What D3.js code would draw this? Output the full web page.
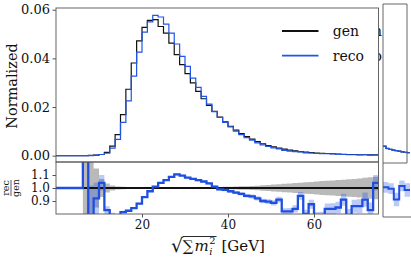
<!DOCTYPE html>
<html>
<head>
<meta charset="utf-8">
<script src="https://cdn.jsdelivr.net/npm/d3@7"></script>
<style>
  body { margin: 0; background: #fff; }
  svg { display: block; }
  text { font-family: "DejaVu Serif", serif; fill: #111; }
</style>
</head>
<body>
<div id="chart"></div>
<script>
// histogram: 60 bins of 1.25 GeV from 0 to 75
const binWidth = 1.25;
const nBins = 60;

// normalized gen / reco densities per bin
const gen = [
  0, 0, 0, 0, 0, 0.00003, 0.0001, 0.0002, 0.0005, 0.0014,
  0.0039, 0.0087, 0.0169, 0.0273, 0.0381, 0.0472, 0.0527, 0.0556, 0.0559, 0.0531,
  0.0504, 0.0463, 0.0415, 0.0374, 0.0337, 0.0299, 0.0264, 0.0234, 0.0207, 0.0182,
  0.0159, 0.0139, 0.0121, 0.0105, 0.0091, 0.0079, 0.0068, 0.0058, 0.0049, 0.0042,
  0.0036, 0.0031, 0.0027, 0.0023, 0.0020, 0.0017, 0.0015, 0.0013, 0.0011, 0.0010,
  0.0009, 0.0008, 0.0007, 0.0006, 0.0005, 0.0005, 0.0004, 0.0004, 0.0003, 0.0003
];
const reco = [
  0, 0, 0, 0, 0, 0.00006, 0.00006, 0.0002, 0.0005, 0.0010,
  0.0031, 0.0067, 0.0137, 0.0225, 0.0327, 0.0426, 0.0508, 0.0550, 0.0577, 0.0570,
  0.0541, 0.0504, 0.0459, 0.0408, 0.0367, 0.0319, 0.0281, 0.0244, 0.0212, 0.0181,
  0.0157, 0.0137, 0.0118, 0.0101, 0.0087, 0.0074, 0.0064, 0.0053, 0.0044, 0.0038,
  0.0032, 0.0028, 0.0022, 0.0019, 0.0017, 0.0016, 0.0012, 0.0011, 0.0009, 0.0008,
  0.0008, 0.0007, 0.0006, 0.0005, 0.0004, 0.0004, 0.0003, 0.0004, 0.0002, 0.0003
];

// reco / gen ratio as drawn in the lower panel
const ratio = [
  1, 1, 1, 1, 1, 2.0, 0.6, 0.92, 1.04, 0.83,
  0.79, 0.78, 0.815, 0.825, 0.845, 0.88, 0.93, 0.975, 1.01, 1.04,
  1.06, 1.085, 1.105, 1.095, 1.08, 1.07, 1.06, 1.05, 1.035, 1.01,
  0.99, 0.985, 0.975, 0.965, 0.955, 0.94, 0.935, 0.92, 0.90, 0.895,
  0.885, 0.91, 0.82, 0.82, 0.84, 0.94, 0.80, 0.875, 0.78, 0.78,
  0.84, 0.84, 0.85, 0.91, 0.79, 0.86, 0.86, 0.91, 0.83, 1.04
];
// half widths of the uncertainty bands
const genErr = [
  0, 0, 0, 0, 0, 0.6, 0.5, 0.15, 0.07, 0.035,
  0.02, 0.012, 0.009, 0.007, 0.006, 0.005, 0.005, 0.005, 0.005, 0.005,
  0.005, 0.005, 0.005, 0.005, 0.006, 0.006, 0.006, 0.007, 0.007, 0.008,
  0.008, 0.009, 0.010, 0.011, 0.013, 0.014, 0.016, 0.018, 0.021, 0.023,
  0.026, 0.029, 0.032, 0.035, 0.038, 0.041, 0.044, 0.047, 0.050, 0.053,
  0.056, 0.058, 0.061, 0.064, 0.067, 0.070, 0.074, 0.078, 0.082, 0.086
];
const recoErr = [
  0, 0, 0, 0, 0, 0.5, 0.42, 0.12, 0.06, 0.03,
  0.02, 0.012, 0.01, 0.008, 0.007, 0.006, 0.006, 0.006, 0.006, 0.006,
  0.006, 0.006, 0.006, 0.007, 0.007, 0.007, 0.008, 0.008, 0.008, 0.009,
  0.009, 0.010, 0.011, 0.012, 0.013, 0.014, 0.015, 0.016, 0.018, 0.019,
  0.020, 0.022, 0.024, 0.026, 0.028, 0.030, 0.032, 0.034, 0.036, 0.038,
  0.040, 0.042, 0.044, 0.046, 0.048, 0.050, 0.053, 0.055, 0.058, 0.060
];

// second (cut off) figure on the right
const sideGen = [0.0040, 0.0032, 0.0028, 0.0025, 0.0023, 0.0021, 0.0018, 0.0016, 0.0015];
const sideReco = [0.0041, 0.0031, 0.0028, 0.0025, 0.0023, 0.0020, 0.0018, 0.0016, 0.0015];
const sideRatio = [1.02, 1.01, 0.93, 1.03, 1.0];
const sideErr = [0.04, 0.04, 0.05, 0.04, 0.05];
// only the last letters of its legend peek out
const sideLegend = ["n", "o"];

const mainTicks = [0, 0.02, 0.04, 0.06];
const ratioTicks = [0.9, 1.0, 1.1];
const xTicks = [20, 40, 60];
const legendItems = [
  { label: "gen", color: "#111" },
  { label: "reco", color: "#2155e6" }
];

const W = 411, H = 265;
const blue = "#1f4fe0";
const spine = "#555";

const svg = d3.select("#chart").append("svg").attr("width", W).attr("height", H);

const x = d3.scaleLinear().domain([0, 75]).range([56, 378.5]);
const yMain = d3.scaleLinear().domain([-0.00259, 0.0607]).range([162, 8]);
const yRat = d3.scaleLinear().domain([0.8, 1.2]).range([214, 162]);

const edges = d3.range(nBins + 1).map(i => i * binWidth);
const stepPts = vals => vals.map((v, i) => [edges[i], v]).concat([[edges[nBins], vals[nBins - 1]]]);
const bandPts = (c, e) => c.map((v, i) => [edges[i], v, e[i]]).concat([[edges[nBins], c[nBins - 1], e[nBins - 1]]]);

const defs = svg.append("defs");
defs.append("clipPath").attr("id", "mainClip").append("rect")
  .attr("x", 56).attr("y", 8).attr("width", 322.5).attr("height", 154);
defs.append("clipPath").attr("id", "ratClip").append("rect")
  .attr("x", 56).attr("y", 162).attr("width", 322.5).attr("height", 52);
defs.append("clipPath").attr("id", "sideClip").append("rect")
  .attr("x", 378.9).attr("y", 0).attr("width", 40).attr("height", H);

// ---------- side figure (mostly hidden behind the main one)
const side = svg.append("g").attr("clip-path", "url(#sideClip)");
const sx = d3.scaleLinear().domain([0, sideGen.length]).range([383, 410]);
const syMain = d3.scaleLinear().domain([-0.00259, 0.0607]).range([163, 4]);
const sxr = d3.scaleLinear().domain([0, sideRatio.length]).range([383, 410]);
const syRat = d3.scaleLinear().domain([0.8, 1.2]).range([217, 163]);

const sideStep = vals => vals.map((v, i) => [i, v]).concat([[vals.length, vals[vals.length - 1]]]);
side.append("path")
  .attr("d", d3.area().curve(d3.curveStepAfter)
    .x(d => sxr(d[0])).y0(d => syRat(d[1] - sideErr[Math.min(d[0], 4)]))
    .y1(d => syRat(d[1] + sideErr[Math.min(d[0], 4)]))(sideStep(sideRatio)))
  .attr("fill", blue).attr("fill-opacity", 0.3);
side.append("path")
  .attr("d", d3.line().curve(d3.curveStepAfter).x(d => sxr(d[0])).y(d => syRat(d[1]))(sideStep(sideRatio)))
  .attr("fill", "none").attr("stroke", blue).attr("stroke-width", 2);
side.append("path")
  .attr("d", d3.line().curve(d3.curveStepAfter).x(d => sx(d[0])).y(d => syMain(d[1]))(sideStep(sideGen)))
  .attr("fill", "none").attr("stroke", "#111").attr("stroke-width", 1.2);
side.append("path")
  .attr("d", d3.line().curve(d3.curveStepAfter).x(d => sx(d[0])).y(d => syMain(d[1]))(sideStep(sideReco)))
  .attr("fill", "none").attr("stroke", "#2155e6").attr("stroke-width", 1.2);
side.selectAll("text.sl").data(sideLegend).join("text")
  .attr("class", "sl")
  .attr("x", 382).attr("y", (d, i) => 31 + i * 24.7).attr("dy", "0.35em")
  .attr("text-anchor", "end").style("font-size", "14px").text(d => d);
[[383, 4, 383, 217], [383, 4, 407, 4], [407, 4, 407, 163], [383, 163, 407, 163], [383, 217, 411, 217]]
  .forEach(s => side.append("line")
    .attr("x1", s[0]).attr("y1", s[1]).attr("x2", s[2]).attr("y2", s[3])
    .attr("stroke", spine).attr("stroke-width", 0.9));

// ---------- main panel
const mainG = svg.append("g").attr("clip-path", "url(#mainClip)");
const step = d3.line().curve(d3.curveStepAfter).x(d => x(d[0]));
mainG.append("path")
  .attr("d", step.y(d => yMain(d[1]))(stepPts(gen)))
  .attr("fill", "none").attr("stroke", "#111").attr("stroke-width", 1.2);
mainG.append("path")
  .attr("d", step.y(d => yMain(d[1]))(stepPts(reco)))
  .attr("fill", "none").attr("stroke", "#2155e6").attr("stroke-width", 1.2);

svg.append("g").attr("transform", "translate(56,0)")
  .call(d3.axisLeft(yMain).tickValues(mainTicks).tickFormat(d3.format(".2f")).tickSize(3.5).tickPadding(2.5))
  .call(g => g.select(".domain").remove())
  .call(g => g.selectAll("line").attr("stroke", spine))
  .call(g => g.selectAll("text").style("font-size", "13px").style("font-family", "DejaVu Serif").attr("fill", "#111"));

svg.append("text")
  .attr("transform", "translate(12,86) rotate(-90)")
  .attr("text-anchor", "middle").attr("dy", "0.35em")
  .style("font-size", "14.5px").text("Normalized");

// legend
const leg = svg.append("g");
legendItems.forEach((d, i) => {
  const yy = 31 + i * 24.7;
  leg.append("line").attr("x1", 282).attr("x2", 318.5).attr("y1", yy).attr("y2", yy)
    .attr("stroke", d.color).attr("stroke-width", 1.8);
  leg.append("text").attr("x", 332.7).attr("y", yy).attr("dy", "0.35em")
    .style("font-size", "14px").text(d.label);
});

// ---------- ratio panel
const ratG = svg.append("g").attr("clip-path", "url(#ratClip)");
const band = d3.area().curve(d3.curveStepAfter).x(d => x(d[0]))
  .y0(d => yRat(d[1] - d[2])).y1(d => yRat(d[1] + d[2]));
ratG.append("path")
  .attr("d", band(bandPts(gen.map(() => 1), genErr)))
  .attr("fill", "#808080").attr("fill-opacity", 0.55);
ratG.append("path")
  .attr("d", band(bandPts(ratio, recoErr)))
  .attr("fill", blue).attr("fill-opacity", 0.3);
ratG.append("path")
  .attr("d", step.y(d => yRat(d[1]))(stepPts(gen.map(() => 1))))
  .attr("fill", "none").attr("stroke", "#111").attr("stroke-width", 2);
ratG.append("path")
  .attr("d", step.y(d => yRat(d[1]))(stepPts(ratio)))
  .attr("fill", "none").attr("stroke", blue).attr("stroke-width", 2.3);

svg.append("g").attr("transform", "translate(56,0)")
  .call(d3.axisLeft(yRat).tickValues(ratioTicks).tickFormat(d3.format(".1f")).tickSize(3.5).tickPadding(2.5))
  .call(g => g.select(".domain").remove())
  .call(g => g.selectAll("line").attr("stroke", spine))
  .call(g => g.selectAll("text").style("font-size", "12px").style("font-family", "DejaVu Serif").attr("fill", "#111"));

svg.append("g").attr("transform", "translate(0,214)")
  .call(d3.axisBottom(x).tickValues(xTicks).tickFormat(d3.format("d")).tickSize(3.5).tickPadding(3))
  .call(g => g.select(".domain").remove())
  .call(g => g.selectAll("line").attr("stroke", spine))
  .call(g => g.selectAll("text").style("font-size", "12px").style("font-family", "DejaVu Serif").attr("fill", "#111"));

// rec / gen fraction label
const frac = svg.append("g").attr("transform", "translate(11,188) rotate(-90)");
frac.append("text").attr("y", -2.5).attr("text-anchor", "middle").style("font-size", "9.5px").text("rec");
frac.append("line").attr("x1", -8).attr("x2", 8).attr("y1", 0).attr("y2", 0).attr("stroke", "#111").attr("stroke-width", 0.7);
frac.append("text").attr("y", 7.5).attr("text-anchor", "middle").style("font-size", "9.5px").text("gen");

// spines
[[56, 8, 378.5, 162], [56, 162, 378.5, 214]].forEach(r =>
  svg.append("rect").attr("x", r[0]).attr("y", r[1]).attr("width", r[2] - r[0]).attr("height", r[3] - r[1])
    .attr("fill", "none").attr("stroke", spine).attr("stroke-width", 0.9));

// ---------- x label: sqrt(sum m_i^2) [GeV]
const xl = svg.append("g");
const base = 251;
let cx = 0;
const rad = xl.append("text").attr("x", cx).attr("y", base + 1).style("font-size", "19px").text("\u221A");
cx += rad.node().getComputedTextLength() - 0.5;
const radStart = cx;
const sig = xl.append("text").attr("x", cx).attr("y", base).style("font-size", "15px").text("\u2211");
cx += sig.node().getComputedTextLength() + 1;
const mm = xl.append("text").attr("x", cx).attr("y", base).style("font-size", "15px").style("font-style", "italic").text("m");
cx += mm.node().getComputedTextLength();
const sup = xl.append("text").attr("x", cx + 0.5).attr("y", base - 7).style("font-size", "10px").text("2");
const sub = xl.append("text").attr("x", cx + 0.5).attr("y", base + 3.5).style("font-size", "10px").style("font-style", "italic").text("i");
cx += Math.max(sup.node().getComputedTextLength(), sub.node().getComputedTextLength()) + 1.5;
xl.append("line").attr("x1", radStart).attr("x2", cx).attr("y1", base - 14.5).attr("y2", base - 14.5)
  .attr("stroke", "#111").attr("stroke-width", 0.9);
cx += 5;
const gev = xl.append("text").attr("x", cx).attr("y", base).style("font-size", "15px").text("[GeV]");
cx += gev.node().getComputedTextLength();
xl.attr("transform", `translate(${218 - cx / 2},0)`);
</script>
</body>
</html>
